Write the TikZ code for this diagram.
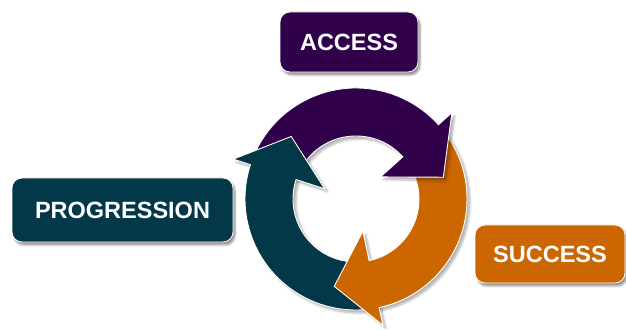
\documentclass[tikz,border=0pt]{standalone}
\usepackage{fontspec}
\setmainfont{Liberation Sans}
\usetikzlibrary{shadows.blur}
\definecolor{cpurple}{HTML}{30004B}
\definecolor{cteal}{HTML}{033848}
\definecolor{corange}{HTML}{CC6600}
\tikzset{
  label box/.style={rounded corners=10pt, draw=white, line width=0.8pt, text=white,
    font=\fontsize{23.5}{28}\selectfont\bfseries, inner sep=0pt,
    blur shadow={shadow xshift=2pt, shadow yshift=-3pt, shadow blur steps=6, shadow opacity=45}},
  ring arrow/.style={draw=white, line width=0.9pt, line join=miter},
  ring shadow/.style={blur shadow={shadow xshift=3pt, shadow yshift=-3pt, shadow blur steps=6, shadow opacity=30}},
}
\begin{document}
\begin{tikzpicture}[x=1pt,y=1pt]
\useasboundingbox (0,0) rectangle (626,331);
\begin{scope}[shift={(356,132)}]
  % orange arrow (drawn first, its head redrawn last)
  \fill[corange, ring arrow, ring shadow] (42:111) arc[start angle=42, end angle=-78, radius=111]
    -- (-78:129) -- (-104:90) -- (-78:33) -- (-78:63)
    arc[start angle=-78, end angle=42, radius=63] -- cycle;
  % purple arrow
  \fill[cpurple, ring arrow, ring shadow] (162:111) arc[start angle=162, end angle=42, radius=111]
    -- (42:129) -- (14:90) -- (42:33) -- (42:63)
    arc[start angle=42, end angle=162, radius=63] -- cycle;
  % teal arrow
  \fill[cteal, ring arrow, ring shadow] (-78:111) arc[start angle=-78, end angle=-198, radius=111]
    -- (-198:129) -- (-224:90) -- (-198:33) -- (-198:63)
    arc[start angle=-198, end angle=-78, radius=63] -- cycle;
  % orange head on top of teal tail
  \begin{scope}
    \clip (0,0) -- (-68:220) arc[start angle=-68, end angle=-125, radius=220] -- cycle;
    \fill[corange, ring arrow] (42:111) arc[start angle=42, end angle=-78, radius=111]
      -- (-78:129) -- (-104:90) -- (-78:33) -- (-78:63)
      arc[start angle=-78, end angle=42, radius=63] -- cycle;
  \end{scope}
\end{scope}
\node[label box, fill=cpurple, minimum width=138pt, minimum height=60pt] (access) at (349,289) {ACCESS};
\node[label box, fill=cteal, minimum width=221pt, minimum height=64pt] (progression) at (122.5,121) {PROGRESSION};
\node[label box, fill=corange, minimum width=150pt, minimum height=58pt] (success) at (550,77) {SUCCESS};
\end{tikzpicture}
\end{document}
